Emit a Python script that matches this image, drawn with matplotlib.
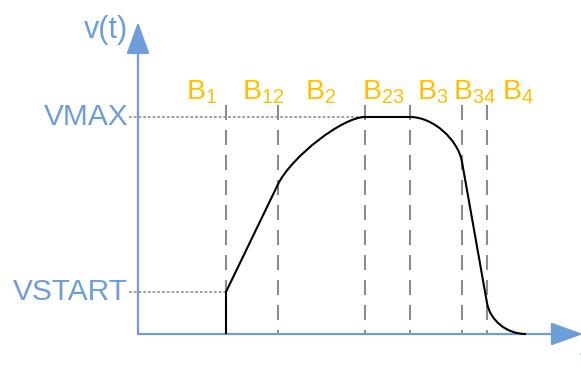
import matplotlib
matplotlib.use("Agg")
import matplotlib.pyplot as plt
from matplotlib.path import Path
from matplotlib.patches import PathPatch

plt.rcParams["font.family"] = ["Liberation Sans", "DejaVu Sans"]
plt.rcParams["mathtext.fontset"] = "custom"
plt.rcParams["mathtext.rm"] = "Liberation Sans"
plt.rcParams["lines.scale_dashes"] = False

BLUE = "#6e9ddb"
GOLD = "#ffc000"
GREY = "#8c8c8c"

# velocity levels (VMAX = 1)
v_max = 1.0
v_start = 0.194

# phase boundaries on the time axis
boundaries = [0.88, 1.40, 2.27, 2.72, 3.24, 3.49]
phase_labels = ["B$_{1}$", "B$_{12}$", "B$_{2}$", "B$_{23}$", "B$_{3}$", "B$_{34}$", "B$_{4}$"]
label_t = [0.48, 1.04, 1.67, 2.24, 2.79, 3.15, 3.64]

# velocity profile: (t, v) vertices and path codes (bezier control points)
profile_pts = [
    (0.88, 0.0), (0.88, 0.194), (1.40, 0.69),
    (1.54, 0.82), (2.05, 1.0), (2.27, 1.0),
    (2.72, 1.0),
    (2.95, 1.0), (3.20, 0.897), (3.24, 0.793),
    (3.49, 0.143),
    (3.52, 0.065), (3.68, 0.0), (3.88, 0.0),
]
profile_codes = [
    Path.MOVETO, Path.LINETO, Path.LINETO,
    Path.CURVE4, Path.CURVE4, Path.CURVE4,
    Path.LINETO,
    Path.CURVE4, Path.CURVE4, Path.CURVE4,
    Path.LINETO,
    Path.CURVE4, Path.CURVE4, Path.CURVE4,
]

fig = plt.figure(figsize=(5.81, 3.72), dpi=100)
ax = fig.add_axes([0, 0, 1, 1])
ax.set_xlim(-1.38, 4.43)
ax.set_ylim(-0.175, 1.539)
ax.axis("off")

# axes with arrow heads
arrow = dict(arrowstyle="-|>,head_length=1.0,head_width=0.36", mutation_scale=20,
             color=BLUE, lw=1.6, shrinkA=0, shrinkB=0)
ax.annotate("", xy=(0, 1.438), xytext=(0, 0), arrowprops=arrow, annotation_clip=False)
ax.annotate("", xy=(4.45, 0), xytext=(0, 0), arrowprops=arrow, annotation_clip=False)

# phase boundaries
for t in boundaries:
    ax.plot([t, t], [1.055, 0], color=GREY, lw=1.5, dashes=(10.8, 7.2), zorder=2)

# reference levels
ax.plot([-0.09, boundaries[2]], [v_max, v_max], color="#999999", lw=1.3, dashes=(2.0, 1.4))
ax.plot([-0.09, boundaries[0]], [v_start, v_start], color="#999999", lw=1.3, dashes=(2.0, 1.4))

# velocity profile
ax.add_patch(PathPatch(Path(profile_pts, profile_codes), fill=False,
                       edgecolor="black", lw=1.5, zorder=4))

# text
ax.text(-0.10, v_max, "VMAX", color=BLUE, fontsize=21.5, ha="right", va="center")
ax.text(-0.10, v_start, "VSTART", color=BLUE, fontsize=21.5, ha="right", va="center")
ax.text(-0.10, 1.40, "v(t)", color=BLUE, fontsize=22, ha="right", va="center")
ax.text(4.41, -0.13, "t", color=BLUE, fontsize=22, ha="left", va="center")
for t, lab in zip(label_t, phase_labels):
    ax.text(t, 1.083, lab, color=GOLD, fontsize=20.5, ha="left", va="baseline")

fig.savefig("out.png", dpi=100)
